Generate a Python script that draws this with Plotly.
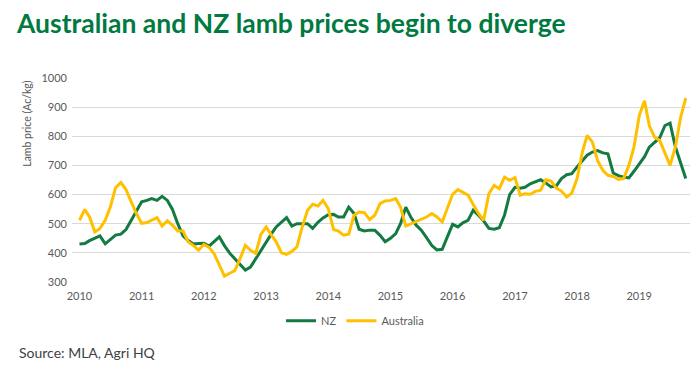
import plotly.graph_objects as go
import pandas as pd

months = pd.date_range("2010-01-01", periods=118, freq="MS")

nz = [430, 432, 442, 450, 458, 431, 445, 461, 464, 480, 512, 545,
      575, 580, 586, 580, 594, 580, 549, 500, 458, 442, 430, 432,
      433, 423, 440, 455, 425, 399, 380, 362, 341, 351, 380, 410,
      438, 465, 489, 505, 521, 492, 500, 500, 500, 484, 505, 520,
      531, 532, 523, 523, 557, 535, 481, 475, 478, 478, 460, 438,
      450, 466, 500, 557, 522, 495, 478, 452, 425, 410, 412, 455,
      498, 489, 503, 512, 546, 529, 510, 484, 481, 486, 530, 600,
      625, 622, 625, 637, 645, 651, 640, 626, 630, 655, 668, 672,
      695, 715, 735, 746, 751, 743, 740, 674, 665, 660, 657, 680,
      705, 730, 763, 780, 795, 837, 845, 764, 705, 655]

australia = [512, 549, 523, 472, 484, 512, 557, 624, 641, 617, 575, 535,
             501, 504, 512, 521, 492, 510, 495, 475, 475, 438, 425, 409,
             429, 419, 398, 360, 320, 330, 339, 380, 426, 409, 398, 463,
             489, 461, 438, 400, 395, 405, 421, 489, 546, 567, 561, 580,
             552, 480, 475, 461, 464, 529, 540, 538, 514, 529, 569, 578,
             580, 586, 557, 492, 500, 508, 515, 523, 535, 523, 506, 555,
             601, 617, 609, 598, 566, 535, 512, 603, 632, 620, 660, 649,
             658, 598, 603, 601, 611, 615, 651, 646, 622, 612, 592, 605,
             655, 746, 803, 780, 717, 683, 666, 662, 652, 655, 700, 763,
             871, 922, 837, 797, 786, 740, 700, 763, 865, 931]

year_ticks = [f"{y}-01-01" for y in range(2010, 2020)]
year_labels = [str(y) for y in range(2010, 2020)]

GREEN = "#137A41"
GOLD = "#FFC000"
TXT = "#595959"
FONT = "Lato"

# page body has an 8px default margin, so the figure is offset by 8px
W, H = 692, 365

fig = go.Figure()
fig.add_trace(go.Scatter(x=months, y=nz, name="NZ", mode="lines",
                         line=dict(color=GREEN, width=3)))
fig.add_trace(go.Scatter(x=months, y=australia, name="Australia", mode="lines",
                         line=dict(color=GOLD, width=3)))

fig.update_layout(
    width=W, height=H,
    margin=dict(l=64, r=10, t=70, b=91),
    paper_bgcolor="white", plot_bgcolor="white",
    font=dict(family=FONT, color=TXT, size=11),
    title=dict(text="<b>Australian and NZ lamb prices begin to diverge</b>",
               font=dict(family=FONT, size=26.5, color="#007A40"),
               xref="container", x=9 / W, xanchor="left",
               yref="container", y=1 - 16 / H, yanchor="middle"),
    showlegend=True,
    legend=dict(orientation="h", x=0.458, xanchor="center", y=-0.19, yanchor="middle",
                font=dict(size=11, color=TXT), itemwidth=30, tracegroupgap=0),
    xaxis=dict(range=["2009-11-18", "2019-10-26"], tickvals=year_ticks, ticktext=year_labels,
               showgrid=False, zeroline=False, showline=False, ticks="",
               ticklabelstandoff=6, tickfont=dict(size=11, color=TXT)),
    yaxis=dict(range=[300, 1000], dtick=100, tick0=300, showgrid=True, gridcolor="#D9D9D9",
               gridwidth=1, zeroline=False, showline=False, ticks="",
               ticklabelstandoff=4, tickfont=dict(size=11, color=TXT)),
)

fig.add_annotation(text="Lamb price (Ac/kg)", textangle=-90, xref="paper", yref="paper",
                   x=-0.073, y=0.78, xanchor="center", yanchor="middle", showarrow=False,
                   font=dict(size=10.5, color=TXT, family=FONT))
fig.add_annotation(text="Source: MLA, Agri HQ", xref="paper", yref="paper",
                   x=-0.089, y=-0.348, xanchor="left", yanchor="middle", showarrow=False,
                   font=dict(size=14, color="#404040", family=FONT))

fig.write_html("out.html")
